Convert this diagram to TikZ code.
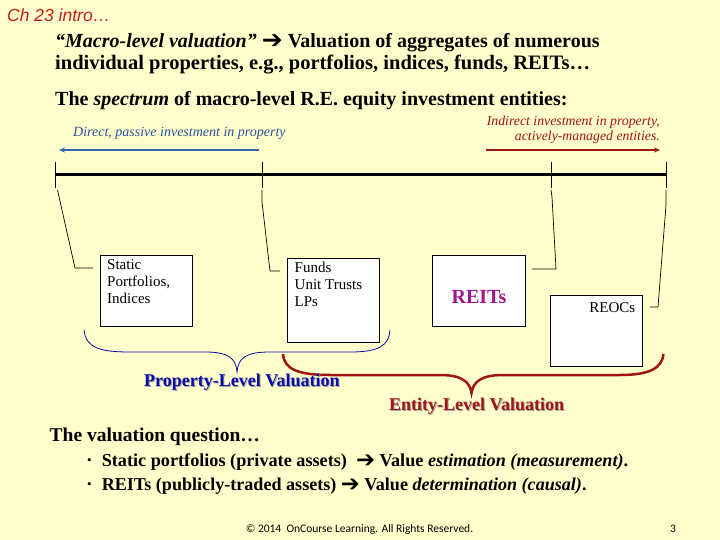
\documentclass[tikz,border=0pt]{standalone}
\usepackage{fontspec}
\setmainfont{Liberation Serif}
\newfontfamily\arialf{Liberation Sans}
\newfontfamily\dejavu{DejaVu Sans}
\newfontfamily\calib{Carlito}
\usetikzlibrary{arrows.meta}
\definecolor{bg}{HTML}{FFFFCC}
\definecolor{hdred}{RGB}{200,30,30}
\definecolor{dirblue}{RGB}{40,80,160}
\definecolor{arrblue}{RGB}{50,100,175}
\definecolor{darkred}{RGB}{160,20,20}
\definecolor{reitc}{RGB}{160,20,140}
\definecolor{propblue}{RGB}{10,10,170}
\newcommand{\barr}{\raisebox{-0.05em}{\scalebox{1.25}{\dejavu\symbol{"2794}}}}
\tikzset{
  txt/.style={inner sep=0pt, anchor=west},
  ebox/.style={draw=black, fill=white, line width=0.8pt, minimum width=92pt, inner sep=0pt},
  tick/.style={line width=1pt},
  conn/.style={line width=0.7pt},
}
\begin{document}
\begin{tikzpicture}[x=1pt,y=-1pt]
\fill[bg] (0,0) rectangle (720,540);
\useasboundingbox (0,0) rectangle (720,540);

% header
\node[txt,text=hdred,font=\arialf\itshape\fontsize{17.5}{20}\selectfont] (ch) at (7,15) {Ch 23 intro…};
\node[txt,font=\bfseries\fontsize{20}{24}\selectfont] (l1) at (55,42.7) {\textit{“Macro-level valuation”} \barr{} Valuation of aggregates of numerous};
\node[txt,font=\bfseries\fontsize{20.5}{24}\selectfont] (l2) at (55,65) {individual properties, e.g., portfolios, indices, funds, REITs…};
\node[txt,font=\bfseries\fontsize{20}{24}\selectfont] (l3) at (55,101) {The \textit{spectrum} of macro-level R.E. equity investment entities:};

% direction labels
\node[txt,text=dirblue,font=\itshape\fontsize{14}{16}\selectfont] (dir) at (73,133) {Direct, passive investment in property};
\node[inner sep=0pt,anchor=east,align=right,text=darkred,font=\itshape\fontsize{13.8}{15.5}\selectfont] (ind) at (660,129.5) {Indirect investment in property,\\actively-managed entities.};
\coordinate (ba1) at (259,150); \coordinate (ba2) at (59,150);
\coordinate (ra1) at (486,150); \coordinate (ra2) at (660,150);
\draw[arrblue,line width=2pt,-{Stealth[length=6pt,width=5pt]}] (ba1) -- (ba2);
\draw[darkred,line width=2pt,-{Stealth[length=6pt,width=5pt]}] (ra1) -- (ra2);

% spectrum line
\coordinate (t1) at (55,175); \coordinate (t2) at (262,175);
\coordinate (t3) at (551,175); \coordinate (t4) at (666,175);
\draw[line width=3pt] (t1) -- (t4);
\foreach \p in {t1,t2,t3,t4} \draw[tick] ([yshift=-13pt]\p) -- ([yshift=13pt]\p);

% boxes
\node[ebox,minimum width=92pt,minimum height=71pt] (sb) at (146.5,290.8) {};
\node[ebox,minimum width=92pt,minimum height=84pt] (fb) at (333.5,300.7) {};
\node[ebox,minimum width=93pt,minimum height=71pt] (rb) at (479,290.8) {};
\node[ebox,minimum width=92pt,minimum height=71pt] (ob) at (596.5,330.8) {};
\node[anchor=north west,inner sep=0pt,align=left,font=\fontsize{15}{17}\selectfont] (st) at (107,259) {Static\\Portfolios,\\Indices};
\node[anchor=north west,inner sep=0pt,align=left,font=\fontsize{15}{17}\selectfont] (ft) at (294.5,262) {Funds\\Unit Trusts\\LPs};
\node[inner sep=0pt,text=reitc,font=\bfseries\fontsize{20}{22}\selectfont] (rt) at (479,296.7) {REITs};
\node[anchor=east,inner sep=0pt,font=\fontsize{15}{17}\selectfont] (ot) at (635.5,307.3) {REOCs};

% connectors
\coordinate (c1a) at (57.5,190); \coordinate (c1b) at (75,268); \coordinate (c1c) at (93,268);
\draw[conn] (c1a) -- (c1b) -- (c1c);
\coordinate (c2a) at (262,190); \coordinate (c2b) at (262,202); \coordinate (c2c) at (270,271); \coordinate (c2d) at (280,271);
\draw[conn] (c2a) -- (c2b) -- (c2c) -- (c2d);
\coordinate (c3a) at (551,190); \coordinate (c3b) at (552,197); \coordinate (c3c) at (556,269); \coordinate (c3d) at (532,269);
\draw[conn] (c3a) -- (c3b) -- (c3c) -- (c3d);
\coordinate (c4a) at (666,190); \coordinate (c4b) at (666,205); \coordinate (c4c) at (658,307); \coordinate (c4d) at (650,307);
\draw[conn] (c4a) -- (c4b) -- (c4c) -- (c4d);

% braces
\draw[propblue,line width=0.8pt] (84,330) .. controls (86,348) and (100,352) .. (130,352) -- (205,352) .. controls (228,352) and (236,358) .. (237,372) .. controls (238,358) and (246,352) .. (270,352) -- (350,352) .. controls (380,352) and (389,345) .. (390,330);
\draw[darkred,line width=2.5pt] (283,354) .. controls (284,370) and (300,375) .. (330,375) -- (440,375) .. controls (462,375) and (470,382) .. (471.5,393) .. controls (473,382) and (481,375) .. (503,375) -- (620,375) .. controls (650,375) and (662,368) .. (663.5,354);

\node[txt,text=black!35,font=\bfseries\fontsize{18}{21}\selectfont] at (145,382.7) {Property-Level Valuation};
\node[txt,text=propblue,font=\bfseries\fontsize{18}{21}\selectfont] (pl) at (144,381.7) {Property-Level Valuation};
\node[txt,text=black!35,font=\bfseries\fontsize{18}{21}\selectfont] at (390,406.7) {Entity-Level Valuation};
\node[txt,text=darkred,font=\bfseries\fontsize{18}{21}\selectfont] (el) at (389,405.7) {Entity-Level Valuation};

% valuation question
\node[txt,font=\bfseries\fontsize{19.5}{23}\selectfont] (vq) at (49.5,437.3) {The valuation question…};
\node[txt,font=\fontsize{13}{15}\selectfont] (b1) at (87,461.7) {•};
\node[txt,font=\bfseries\fontsize{18.2}{21}\selectfont] (q1) at (101.6,461.7) {Static portfolios (private assets) \ \barr{} Value \textit{estimation (measurement)}.};
\node[txt,font=\fontsize{13}{15}\selectfont] (b2) at (87,486) {•};
\node[txt,font=\bfseries\fontsize{18.1}{21}\selectfont] (q2) at (101.6,486) {REITs (publicly-traded assets) \barr{} Value \textit{determination (causal)}.};

% footer
\node[inner sep=0pt,font=\calib\fontsize{11.5}{13}\selectfont] (ft1) at (359.5,529) {© 2014 \ OnCourse Learning. All Rights Reserved.};
\node[inner sep=0pt,font=\calib\fontsize{11.5}{13}\selectfont] (pg) at (673,529) {3};
\end{tikzpicture}
\end{document}
